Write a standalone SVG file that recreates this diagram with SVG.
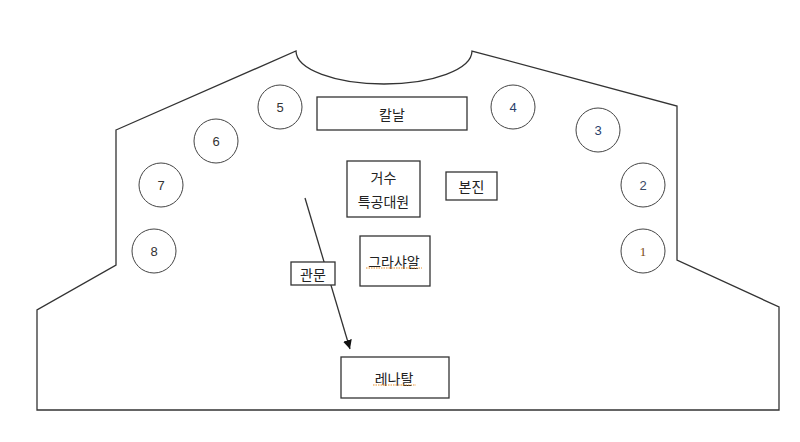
<svg xmlns="http://www.w3.org/2000/svg" width="800" height="442" viewBox="0 0 800 442">
<style>
.ln{fill:none;stroke:#333;stroke-width:1.3}
.bx{fill:#fff;stroke:#333;stroke-width:1.3}
.c{fill:#fff;stroke:#444;stroke-width:1}
.t{font-family:"Noto Sans CJK KR","Noto Sans",sans-serif;font-size:14px;fill:#222;text-anchor:middle;dominant-baseline:central}
.n{font-family:"Liberation Sans","DejaVu Sans",sans-serif;font-size:13px;fill:#333;text-anchor:middle;dominant-baseline:central}
.sq{fill:none;stroke:#e8902a;stroke-width:1;stroke-dasharray:1.5 1}
</style>
<defs>
<marker id="ah" markerWidth="10" markerHeight="10" refX="9" refY="4.5" orient="auto" markerUnits="userSpaceOnUse">
<path d="M0,0 L9,4.5 L0,9 z" fill="#111"/>
</marker>
</defs>
<rect width="800" height="442" fill="#fff"/>
<g id="outline">
<path class="ln" d="M116,130 L296,51 A88,33 0 0 0 472,51 L677,106 L677,260 L779,307 L779,410 L37,410 L37,310 L116,265 Z"/>
</g>
<g id="connectors">
<line class="ln" x1="305" y1="198" x2="350" y2="349" stroke="#222" marker-end="url(#ah)"/>
</g>
<g id="label-gwanmun">
<rect class="bx" x="291" y="262" width="44" height="23"/>
<text class="t" x="313" y="273.5">관문</text>
</g>
<g id="kalnal">
<rect class="bx" x="317" y="97" width="150" height="33"/>
<text class="t" x="392" y="113.5">칼날</text>
</g>
<g id="geosu">
<rect class="bx" x="347" y="161" width="73" height="56"/>
<text class="t" x="383.5" y="177">거수</text>
<text class="t" x="383.5" y="201">특공대원</text>
</g>
<g id="bonjin">
<rect class="bx" x="446" y="172" width="51" height="28"/>
<text class="t" x="471.5" y="186">본진</text>
</g>
<g id="grashaal">
<rect class="bx" x="360" y="236" width="70" height="50"/>
<text class="t" x="394" y="261">그라샤알</text>
<line class="sq" x1="366" y1="268" x2="422" y2="268"/>
</g>
<g id="renatal">
<rect class="bx" x="341" y="357" width="108" height="41"/>
<text class="t" x="394" y="377.5">레나탈</text>
<line class="sq" x1="373" y1="385" x2="416" y2="385"/>
</g>
<g id="n1"><circle class="c" cx="643" cy="251" r="22"/><text class="n" x="643" y="251" style="fill:#7a4a10;font-family:'Liberation Serif',serif">1</text></g>
<g id="n2"><circle class="c" cx="643" cy="185" r="22"/><text class="n" x="643" y="185" style="fill:#3a4a66">2</text></g>
<g id="n3"><circle class="c" cx="598" cy="130" r="22"/><text class="n" x="598" y="130" style="fill:#2a3f6b">3</text></g>
<g id="n4"><circle class="c" cx="513" cy="107" r="22"/><text class="n" x="513" y="107" style="fill:#2a3f6b">4</text></g>
<g id="n5"><circle class="c" cx="280" cy="107" r="22"/><text class="n" x="280" y="107">5</text></g>
<g id="n6"><circle class="c" cx="216" cy="141" r="22"/><text class="n" x="216" y="141">6</text></g>
<g id="n7"><circle class="c" cx="161" cy="185" r="22"/><text class="n" x="161" y="185">7</text></g>
<g id="n8"><circle class="c" cx="154" cy="251" r="22"/><text class="n" x="154" y="251">8</text></g>
</svg>
